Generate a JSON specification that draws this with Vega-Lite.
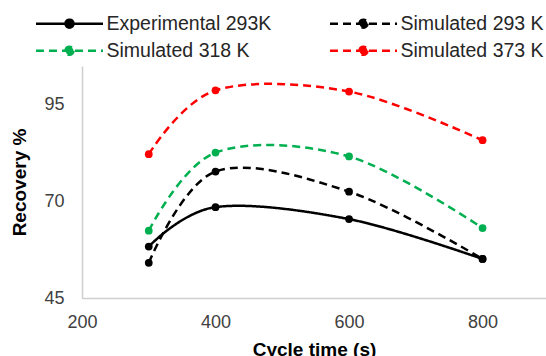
{
  "$schema": "https://vega.github.io/schema/vega-lite/v6.json",
  "width": 464,
  "height": 232,
  "autosize": {"type": "none"},
  "padding": {"left": 82, "top": 66, "right": 0, "bottom": 58},
  "background": "white",
  "config": {
    "view": {"stroke": null},
    "font": "Liberation Sans",
    "axis": {"grid": false, "ticks": false, "domainColor": "#cfcfcf", "domainWidth": 1.5, "labelColor": "#404040", "labelFont": "Liberation Sans", "labelFontSize": 18, "titleFont": "Liberation Sans", "titleFontSize": 19, "titleFontWeight": "bold", "titleColor": "#000000"}
  },
  "data": {
    "values": [
      {"series": "Experimental 293K", "cycle": 300, "recovery": 58.3},
      {"series": "Experimental 293K", "cycle": 400, "recovery": 68.5},
      {"series": "Experimental 293K", "cycle": 600, "recovery": 65.4},
      {"series": "Experimental 293K", "cycle": 800, "recovery": 55.1},
      {"series": "Simulated 293 K", "cycle": 300, "recovery": 54.1},
      {"series": "Simulated 293 K", "cycle": 400, "recovery": 77.7},
      {"series": "Simulated 293 K", "cycle": 600, "recovery": 72.5},
      {"series": "Simulated 293 K", "cycle": 800, "recovery": 55.1},
      {"series": "Simulated 318 K", "cycle": 300, "recovery": 62.4},
      {"series": "Simulated 318 K", "cycle": 400, "recovery": 82.6},
      {"series": "Simulated 318 K", "cycle": 600, "recovery": 81.6},
      {"series": "Simulated 318 K", "cycle": 800, "recovery": 63.1},
      {"series": "Simulated 373 K", "cycle": 300, "recovery": 82.2},
      {"series": "Simulated 373 K", "cycle": 400, "recovery": 98.7},
      {"series": "Simulated 373 K", "cycle": 600, "recovery": 98.4},
      {"series": "Simulated 373 K", "cycle": 800, "recovery": 85.8}
    ]
  },
  "mark": {"type": "line", "interpolate": "cardinal", "strokeWidth": 2.5, "point": {"filled": true, "size": 60, "opacity": 1}},
  "encoding": {
    "x": {
      "field": "cycle", "type": "quantitative",
      "scale": {"domain": [200, 895], "nice": false, "zero": false},
      "axis": {"title": "Cycle time (s)", "values": [200, 400, 600, 800], "labelPadding": 15, "titlePadding": 9, "labelFlush": false}
    },
    "y": {
      "field": "recovery", "type": "quantitative",
      "scale": {"domain": [45, 105], "nice": false, "zero": false},
      "axis": {"title": "Recovery %", "values": [45, 70, 95], "labelPadding": 18, "titlePadding": 14}
    },
    "color": {
      "field": "series", "type": "nominal",
      "scale": {"domain": ["Experimental 293K", "Simulated 293 K", "Simulated 318 K", "Simulated 373 K"], "range": ["#000000", "#000000", "#00B050", "#FF0000"]},
      "legend": {
        "title": null, "orient": "none", "direction": "horizontal", "legendX": -47, "legendY": -52.5, "columns": 2, "padding": 0,
        "symbolType": "M-4.19,0L4.19,0M0.5,0A0.5,0.5,0,1,1,-0.5,0A0.5,0.5,0,1,1,0.5,0Z",
        "symbolSize": 256, "symbolStrokeWidth": 2.5, "symbolOffset": 24.75, "labelOffset": 27.25,
        "labelFontSize": 19.5, "labelColor": "#262626", "labelFont": "Liberation Sans",
        "columnPadding": 52, "rowPadding": 6.5, "labelLimit": 400,
        "encode": {"symbols": {"update": {"fill": {"scale": "color", "field": "value"}, "opacity": {"value": 1}}}}
      }
    },
    "strokeDash": {
      "field": "series", "type": "nominal",
      "scale": {"domain": ["Experimental 293K", "Simulated 293 K", "Simulated 318 K", "Simulated 373 K"], "range": [[1, 0], [8, 5], [8, 5], [8, 5]]},
      "legend": {
        "title": null, "orient": "none", "direction": "horizontal", "legendX": -47, "legendY": -52.5, "columns": 2, "padding": 0,
        "symbolType": "M-4.19,0L4.19,0M0.5,0A0.5,0.5,0,1,1,-0.5,0A0.5,0.5,0,1,1,0.5,0Z",
        "symbolSize": 256, "symbolStrokeWidth": 2.5, "symbolOffset": 24.75, "labelOffset": 27.25,
        "labelFontSize": 19.5, "labelColor": "#262626", "labelFont": "Liberation Sans",
        "columnPadding": 52, "rowPadding": 6.5, "labelLimit": 400
      }
    }
  }
}
